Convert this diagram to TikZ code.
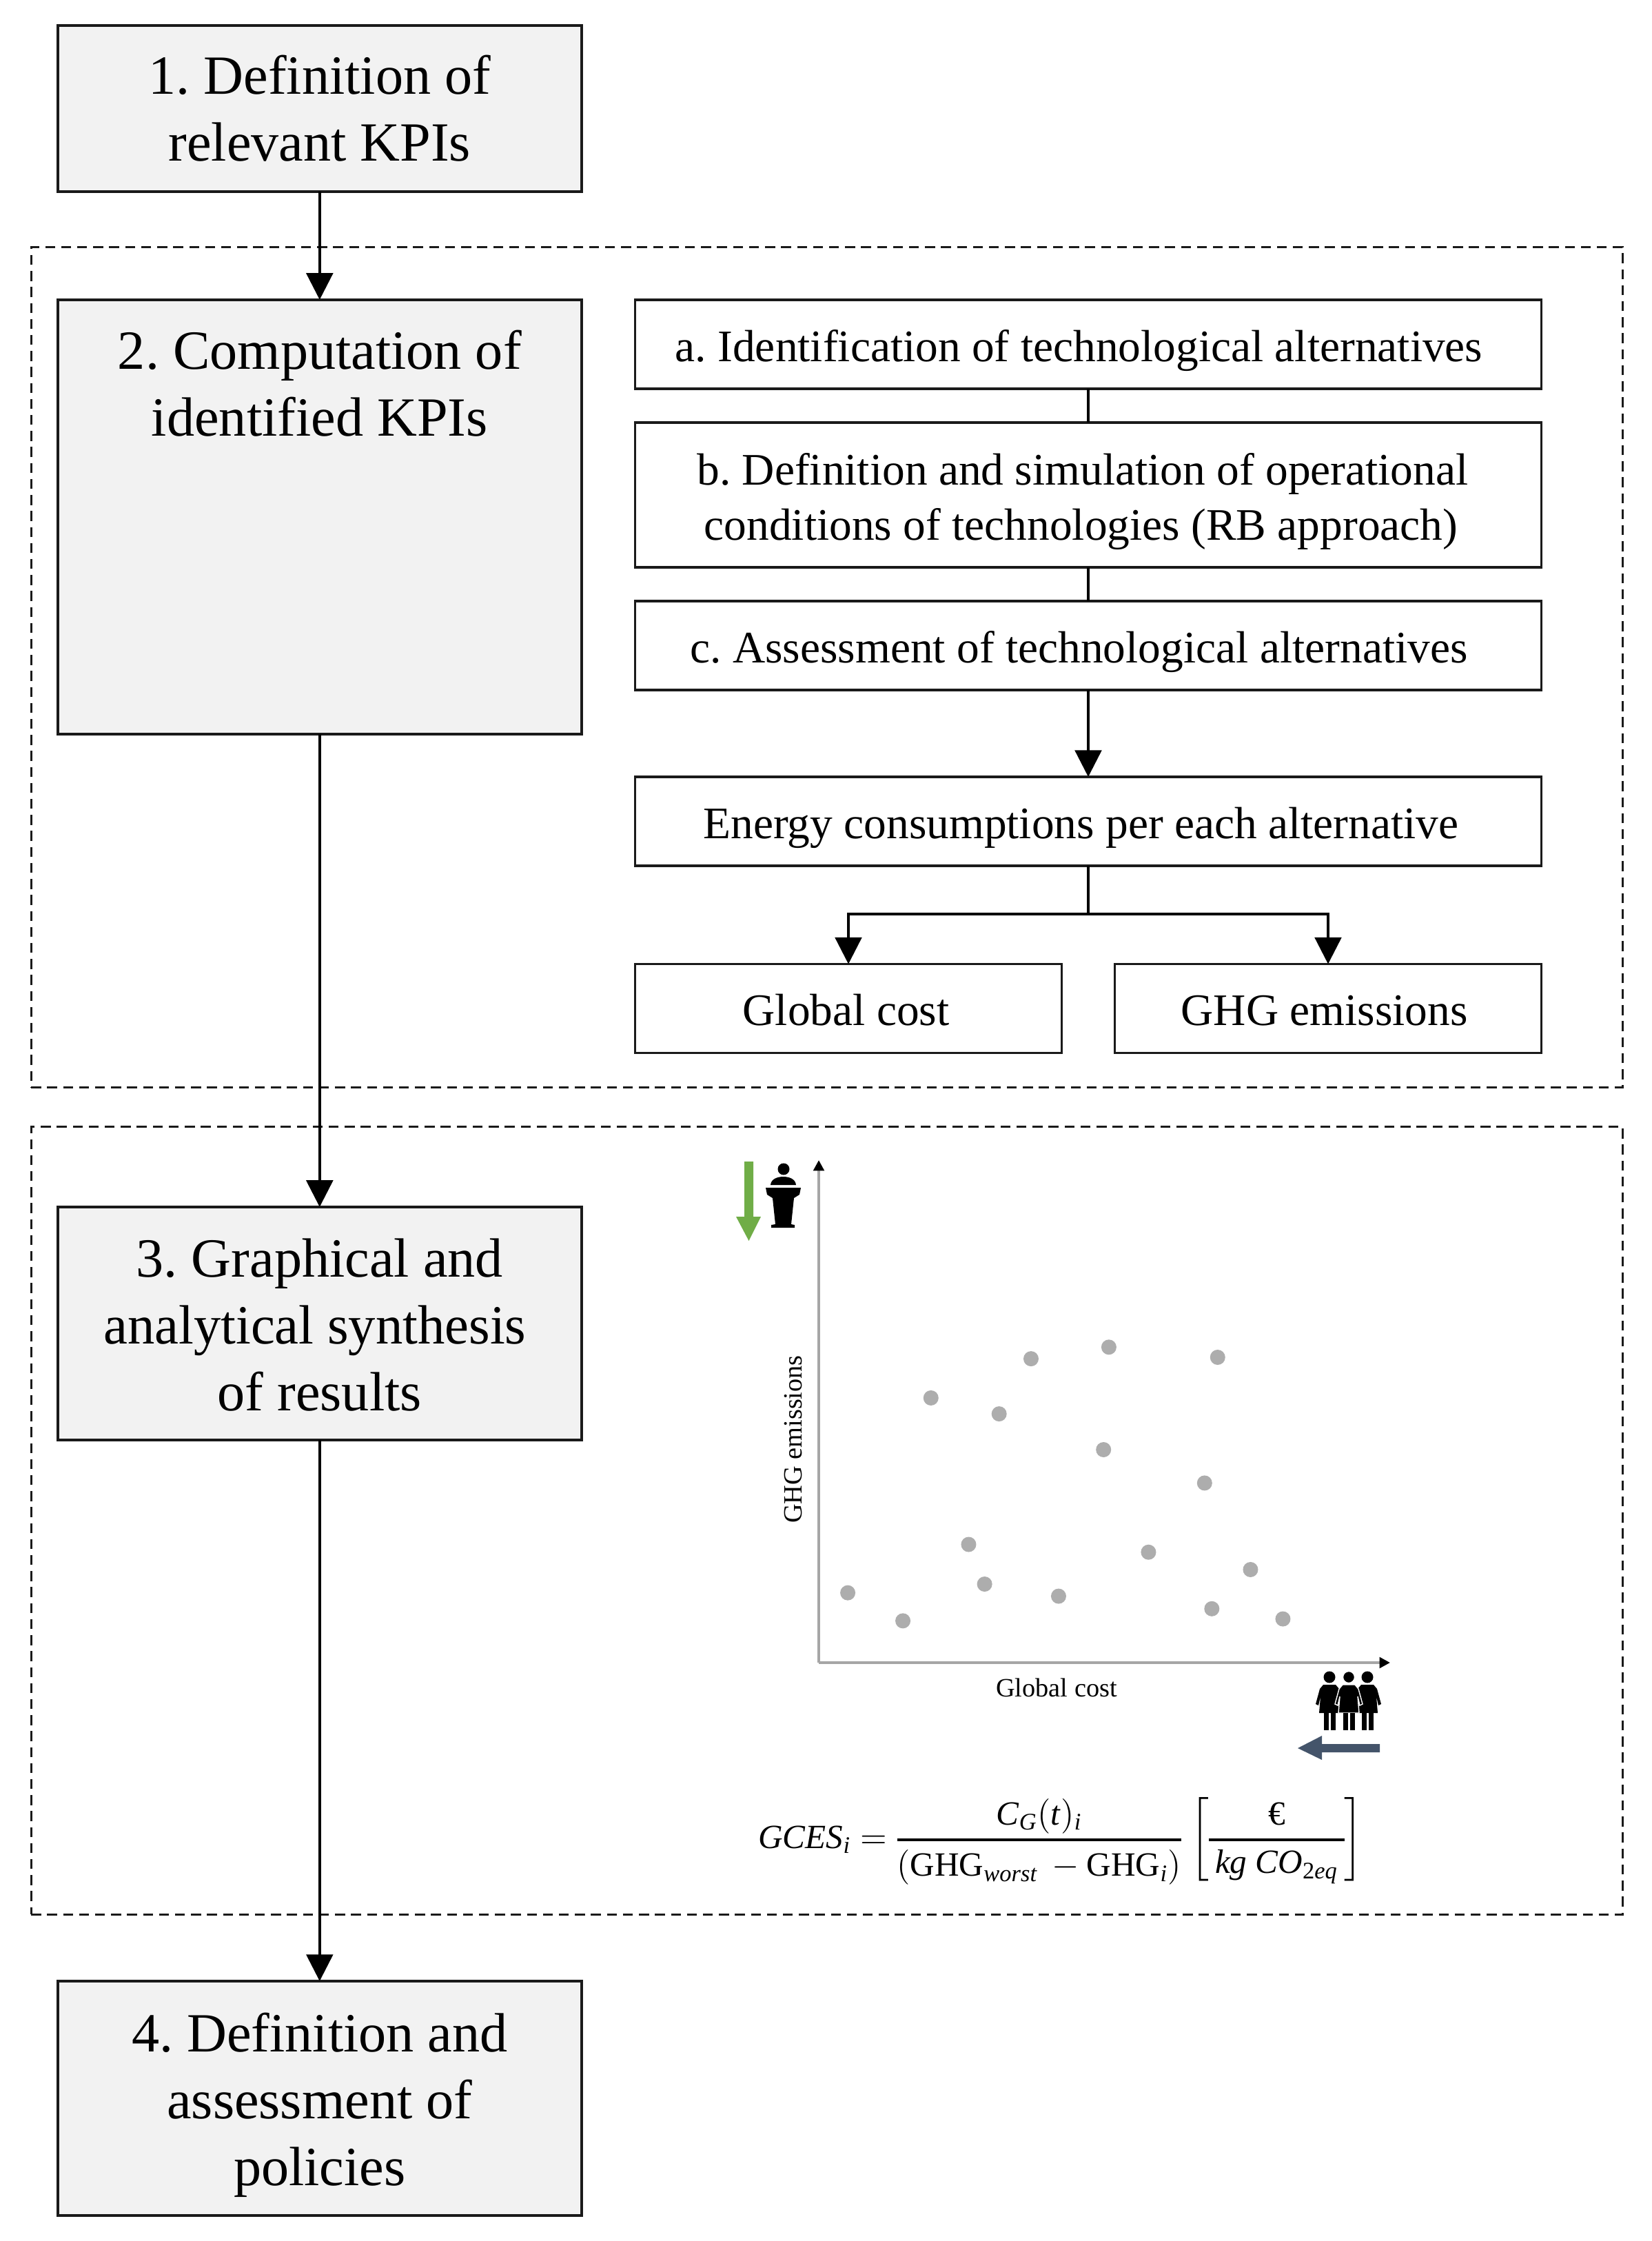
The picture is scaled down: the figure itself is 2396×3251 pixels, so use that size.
\documentclass[tikz,border=0pt]{standalone}
\usepackage{amsmath}
\usepackage{fontspec}
\setmainfont{Liberation Serif}
\usetikzlibrary{arrows.meta,calc}
\definecolor{boxfill}{HTML}{F2F2F2}
\definecolor{linedark}{HTML}{1A1A1A}
\definecolor{axisgray}{HTML}{A6A6A6}
\definecolor{dotgray}{HTML}{ADADAD}
\definecolor{upgreen}{HTML}{70AD47}
\definecolor{leftblue}{HTML}{44546A}
\newcommand{\ti}[1]{\text{\textit{#1}}}
\newcommand{\womanfig}[2]{%
  \fill[black,#2] (#1,2433) circle (8.5);
  \filldraw[fill=black,#2] (#1-9,2444) -- (#1+9,2444) -- (#1+14,2450) -- (#1+20,2472) -- (#1+16,2474) -- (#1+13,2461) -- (#1+15,2485) -- (#1-15,2485) -- (#1-13,2461) -- (#1-16,2474) -- (#1-20,2472) -- (#1-14,2450) -- cycle;
  \fill[black] (#1-8,2485) rectangle (#1-1,2510);
  \fill[black] (#1+2,2485) rectangle (#1+9,2510);
}
\tikzset{
  x=0.01cm,y=-0.01cm,
  mainbox/.style={draw=linedark,fill=boxfill,line width=1.1pt,minimum width=7.60cm,inner sep=0pt,outer sep=0pt,align=center,font=\fontsize{22.8}{27.6}\selectfont},
  subbox/.style={draw=linedark,line width=0.9pt,fill=white,inner sep=0pt,outer sep=0pt,align=center,font=\fontsize{18.6}{22.8}\selectfont},
  widebox/.style={subbox,minimum width=13.14cm},
  oneline/.style={text height=14.2pt,text depth=0pt,minimum height=1.29cm},
  halfbox/.style={subbox,oneline,minimum width=6.18cm},
  dashbox/.style={draw=linedark,line width=0.9pt,dash pattern=on 4.1pt off 2.5pt,inner sep=0pt,outer sep=0pt,minimum width=23.08cm},
  flow/.style={draw=black,line width=1pt,-{Triangle[length=11pt,width=11pt]}},
  plain/.style={draw=black,line width=0.9pt},
  axis/.style={draw=axisgray,line width=1.1pt,-{Triangle[length=4.4pt,width=4.4pt,color=black,fill=black]}},
  plotlabel/.style={font=\fontsize{10.9}{13}\selectfont,inner sep=0pt},
  dot/.style={circle,fill=dotgray,minimum size=0.22cm,inner sep=0pt},
}
\begin{document}
\frenchspacing
\begin{tikzpicture}
\useasboundingbox (0,0) rectangle (2396,3251);
\fill[white] (0,0) rectangle (2396,3251);

% dashed groups
\node[dashbox,minimum height=12.18cm] (groupA) at (1199.8,967.8) {};
\node[dashbox,minimum height=11.42cm] (groupB) at (1199.8,2206) {};

% main steps
\node[mainbox,minimum height=2.41cm] (k1) at (463.8,157.5) {1. Definition of\\relevant KPIs};
\node[mainbox,minimum height=6.30cm] (k2) at (463.8,750) {};
\node[font=\fontsize{22.8}{27.6}\selectfont,align=center,inner sep=0pt,anchor=north] (k2text) at (463.8,478) {2. Computation of\\identified KPIs};
\node[mainbox,minimum height=3.38cm] (k3) at (463.8,1920) {\rule{0pt}{16.8pt}3. Graphical and\\\scalebox{0.98}[1]{analytical synthesis}\kern 4pt\\of results};
\node[mainbox,minimum height=3.40cm] (k4) at (463.8,3044) {\rule{0pt}{21.5pt}4. Definition and\\assessment of\\policies};

\draw[flow] (k1.south) -- (k2.north);
\draw[flow] (k2.south) -- (k3.north);
\draw[flow] (k3.south) -- (k4.north);

% sub steps
\node[widebox,oneline] (a) at (1579,499.5) {a. Identification of technological alternatives\kern 7.7pt};
\node[widebox,minimum height=2.10cm] (b) at (1579,718) {\rule{0pt}{18.4pt}b. Definition and simulation of operational\kern 4.6pt\\conditions of technologies (RB approach)\kern 6pt};
\node[widebox,oneline] (c) at (1579,936.5) {c. Assessment of technological alternatives\kern 7.7pt};
\node[widebox,oneline] (e) at (1579,1191.5) {Energy consumptions per each alternative\kern 6pt};
\node[halfbox] (gc) at (1231,1463) {Global cost\kern 2pt};
\node[halfbox] (ghg) at (1927,1463) {GHG emissions\kern 3pt};
\coordinate (split) at (1579,1326);

\draw[plain] (a.south) -- (b.north);
\draw[plain] (b.south) -- (c.north);
\draw[flow] (c.south) -- (e.north);
\draw[plain] (e.south) -- (split);
\draw[flow] (split) -| (gc.north);
\draw[flow] (split) -| (ghg.north);

% plot
\coordinate (origin) at (1188,2412);
\coordinate (ytop) at (1188,1683);
\coordinate (xend) at (2017,2412);
\draw[axis] (origin) -- (ytop);
\draw[axis] (origin) -- (xend);
\node[plotlabel,rotate=90] (ylab) at (1151,2088) {GHG emissions};
\node[plotlabel] (xlab) at (1533,2448) {Global cost};
\foreach \a/\b in {328/956,442/1014,500/553,578/856,611/938,641/586,707/472,764/963,857/660,868/448,950/872,1066/729,1093/469,1081/989,1161/908,1228/1010}
  \node[dot] at ({1000+\a/1.4255},{1640+\b/1.4255}) {};

% green arrow and speaker
\fill[upgreen] (1080,1685) -- (1093,1685) -- (1093,1765) -- (1104,1765) -- (1086.5,1800) -- (1068,1765) -- (1080,1765) -- cycle;
\fill[black] (1137,1696) circle (8.5);
\fill[black] (1118,1719) to[out=85,in=180] (1136.5,1707) to[out=0,in=95] (1155,1719) -- cycle;
\fill[black] (1111,1723) -- (1162,1723) -- (1160,1733) -- (1152,1738) -- (1148,1776) -- (1153,1777) -- (1153,1781) -- (1119,1781) -- (1119,1777) -- (1125,1776) -- (1121,1738) -- (1113,1733) -- cycle;

% women and blue arrow
\womanfig{1929}{draw=none}
\womanfig{1984}{draw=none}
\womanfig{1957}{draw=white,line width=0.4pt}
\fill[leftblue] (2002,2530) -- (1918,2530) -- (1918,2518) -- (1883,2536) -- (1918,2553) -- (1918,2542) -- (2002,2542) -- cycle;

% formula
\node[inner sep=0pt,font=\fontsize{14}{17}\selectfont] (gces) at (1539,2671) {\nulldelimiterspace=0pt$\displaystyle \ti{GCES}_{\ti{i}} = \genfrac{}{}{1.2pt}{}{\smash[b]{\ti{C}_{\ti{G}}(\ti{t})_{\ti{i}}}}{(\text{GHG}_{\ti{worst}}\,-\text{GHG}_{\ti{i}})}\kern 1.3pt\left[\genfrac{}{}{1.2pt}{}{\text{€}}{\kern 2.6pt\ti{kg}\ \ti{CO}_{\text{2\textit{eq}}}\kern 2.6pt}\right]$};
\end{tikzpicture}
\end{document}
